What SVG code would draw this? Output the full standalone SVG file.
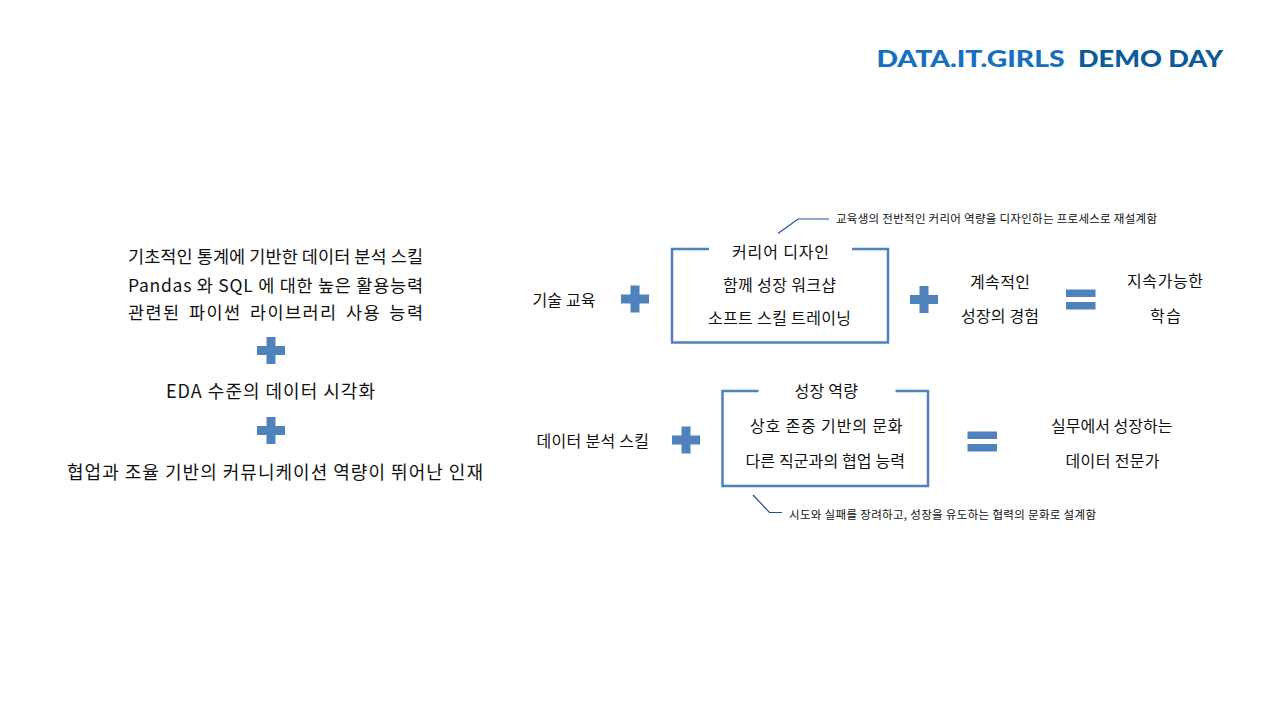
<svg xmlns="http://www.w3.org/2000/svg" xmlns:xlink="http://www.w3.org/1999/xlink" width="1280" height="720" viewBox="0 0 1280 720">
<style>
.t{font-family:"Noto Sans CJK KR","Noto Sans",sans-serif;fill:#111111;font-weight:400;}
.l{font-size:17.5px;}
.lb{font-size:18px;}
.m{font-size:16px;}
.s{font-size:11.5px;}
.op{fill:#4f81bd;}
.box{fill:none;stroke:#4f81bd;stroke-width:2.5;}
.call{fill:none;stroke:#1f4e9e;stroke-width:1.2;}
.title{font-family:"Lato","DejaVu Sans",sans-serif;font-weight:900;font-size:22.5px;}
</style>
<defs>
<g id="plus"><rect x="-14" y="-4.5" width="28" height="9"/><rect x="-4.5" y="-13.5" width="9" height="27"/></g>
<g id="eq"><rect x="0" y="0" width="29.5" height="7.5"/><rect x="0" y="12.5" width="29.5" height="7.5"/></g>
</defs>
<rect width="1280" height="720" fill="#ffffff"/>
<g id="title">
<text class="title" x="876.5" y="66.5" fill="#1570c0" textLength="188" lengthAdjust="spacingAndGlyphs">DATA.IT.GIRLS</text>
<text class="title" x="1078" y="66.5" fill="#0b5a9a" textLength="145" lengthAdjust="spacingAndGlyphs">DEMO DAY</text>
</g>
<g id="left-skills">
<text class="t l" x="128" y="262.5" textLength="295">기초적인 통계에 기반한 데이터 분석 스킬</text>
<text class="t l" x="128" y="291.5" textLength="295">Pandas 와 SQL 에 대한 높은 활용능력</text>
<text class="t l" x="128" y="318.5" textLength="295" style="word-spacing:3px">관련된 파이썬 라이브러리 사용 능력</text>
</g>
<g id="left-plus1" class="op"><use xlink:href="#plus" x="271" y="350.5"/></g>
<g id="left-eda"><text class="t lb" x="166" y="397.5" textLength="209">EDA 수준의 데이터 시각화</text></g>
<g id="left-plus2" class="op"><use xlink:href="#plus" x="271" y="430.5"/></g>
<g id="left-talent"><text class="t lb" x="67" y="479" textLength="416">협업과 조율 기반의 커뮤니케이션 역량이 뛰어난 인재</text></g>

<g id="tech-edu"><text class="t m" x="532.5" y="306" textLength="63">기술 교육</text></g>
<g id="plus-r1a" class="op"><use xlink:href="#plus" x="635" y="299"/></g>
<g id="career-box">
<path class="box" d="M709,249 H672 V342.5 H888 V249 H852"/>
<text class="t m" x="732" y="258" textLength="97">커리어 디자인</text>
<text class="t m" x="723" y="291" textLength="113">함께 성장 워크샵</text>
<text class="t m" x="708" y="324" textLength="143">소프트 스킬 트레이닝</text>
</g>
<g id="plus-r1b" class="op"><use xlink:href="#plus" x="924" y="299.5"/></g>
<g id="continuous"><text class="t m" x="970" y="288" textLength="60">계속적인</text>
<text class="t m" x="961" y="322" textLength="78">성장의 경험</text></g>
<g id="eq-r1" class="op"><use xlink:href="#eq" x="1066" y="289.5"/></g>
<g id="sustainable"><text class="t m" x="1127" y="287" textLength="76">지속가능한</text>
<text class="t m" x="1150" y="322" textLength="31">학습</text></g>

<g id="data-skill"><text class="t m" x="536.5" y="447" textLength="112.5">데이터 분석 스킬</text></g>
<g id="plus-r2" class="op"><use xlink:href="#plus" x="686" y="440"/></g>
<g id="growth-box">
<path class="box" d="M758.5,391 H722.5 V486 H928 V391 H895.5"/>
<text class="t m" x="794.5" y="397" textLength="63.5">성장 역량</text>
<text class="t m" x="750" y="432" textLength="152.5">상호 존중 기반의 문화</text>
<text class="t m" x="745.5" y="467" textLength="159.5">다른 직군과의 협업 능력</text>
</g>
<g id="eq-r2" class="op"><use xlink:href="#eq" x="967.5" y="431.5"/></g>
<g id="expert"><text class="t m" x="1051" y="432" textLength="121.5">실무에서 성장하는</text>
<text class="t m" x="1065.5" y="467" textLength="94">데이터 전문가</text></g>

<g id="connectors">
<path class="call" d="M778,233.5 L798,219 H829"/>
<path class="call" d="M753,495 L769.5,512.5 H782"/>
</g>
<g id="note1"><text class="t s" x="836" y="223" textLength="321">교육생의 전반적인 커리어 역량을 디자인하는 프로세스로 재설계함</text></g>
<g id="note2"><text class="t s" x="789" y="519" textLength="307">시도와 실패를 장려하고, 성장을 유도하는 협력의 문화로 설계함</text></g>
</svg>
